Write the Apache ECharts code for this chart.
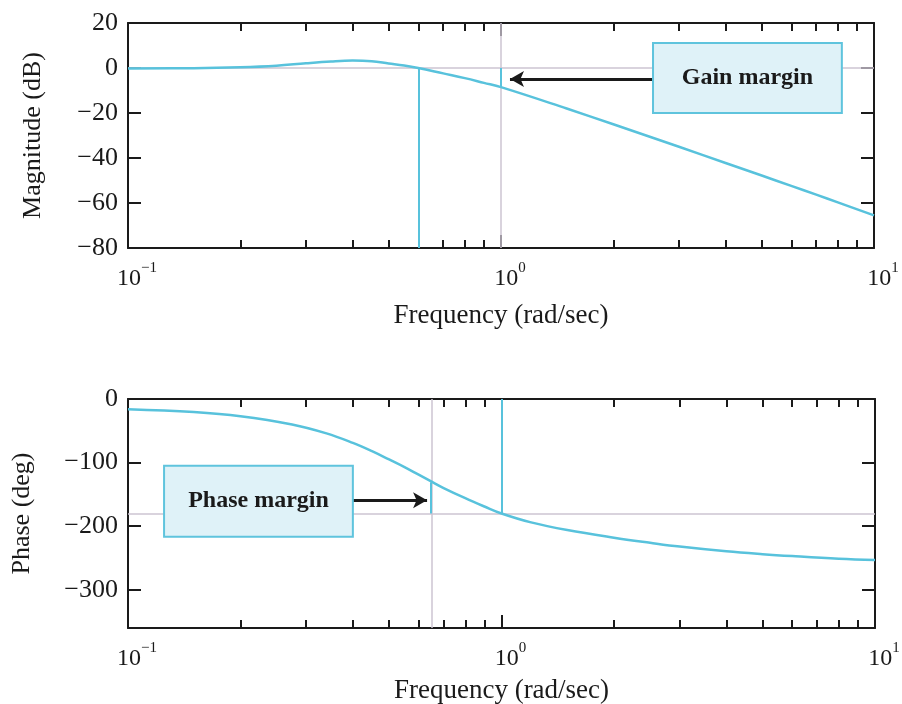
<!DOCTYPE html>
<html><head><meta charset="utf-8">
<script src="https://cdn.jsdelivr.net/npm/echarts@6.0.0/dist/echarts.min.js"></script>
<style>html,body{margin:0;padding:0;background:#fff}#c{width:902px;height:704px}</style>
</head><body><div id="c"></div>
<script>
// ---- data ----
const freqMag = [0.1,0.15,0.2,0.25,0.3,0.35,0.4,0.45,0.5,0.55,0.6,0.7,0.8,0.9,1,1.5,2,3,4,5,6,7,8,10];
const magnitudeDb = [-0.2,-0.1,0.3,1.0,2.1,2.9,3.3,3.0,2.0,1.1,0.0,-2.4,-4.5,-6.6,-8.5,-18.0,-25.0,-35.0,-42.2,-47.8,-52.4,-56.3,-59.7,-65.5];
const freqPhase = [0.1,0.15,0.2,0.275,0.34,0.4,0.45,0.5,0.55,0.6,0.65,0.7,0.8,0.9,1,1.2,1.5,2,2.5,3,4,5,6,8,10];
const phaseDeg = [-16,-20.5,-27,-40,-54,-69,-82,-95,-107,-119,-130,-140,-156,-169,-180,-194,-206,-218,-226,-232,-239.5,-244,-247,-251,-253];
const xLabelValues = [0.1, 1, 10];
const xTickValues = [0.1,0.2,0.3,0.4,0.5,0.6,0.7,0.8,0.9,1,2,3,4,5,6,7,8,9,10];
const xMajorTickValues = [1];
const magTickValues = [20,0,-20,-40,-60,-80];
const phaseTickValues = [0,-100,-200,-300];
// margins / annotation values
const gainCrossFreq = 0.6;
const phaseCrossFreq = 1;
const gainMarginDb = -8.5;
const pmFreq = 0.645;
const pmPhase = -131;
const phaseRef = -180;
const gainBox = {x0: 2.556, x1: 8.2, y0: 11.1, y1: -20, arrowY: -4.9, arrowTip: 1.057, text: 'Gain margin'};
const phaseBox = {x0: 0.1249, x1: 0.40, y0: -105, y1: -216.5, arrowY: -159, arrowTip: 0.632, text: 'Phase margin'};

// ---- styles ----
const FONT = 'Liberation Serif';
const BLUE = '#58c2dc';
const GREY = '#cdc5d2';
const INK = '#1a1a1a';
const minus = v => String(v).replace('-', '\u2212');

function xAxes(grid) {
  const common = {type: 'log', logBase: 10, min: 0.1, max: 10, gridIndex: grid,
    splitLine: {show: false}, minorTick: {show: false}};
  const line = {show: true, onZero: false, lineStyle: {color: INK, width: 2}};
  return [
    Object.assign({}, common, {position: 'bottom', axisLine: line,
      axisTick: {show: true, inside: true, length: 8, customValues: xTickValues, lineStyle: {color: INK, width: 2}},
      axisLabel: {show: true, customValues: xLabelValues, margin: 13, padding: [0,0,0,18],
        formatter: v => '{b|10}{s|' + minus(Math.round(Math.log10(v))) + '}',
        rich: {b: {fontFamily: FONT, fontSize: 24, color: INK, lineHeight: 30, verticalAlign: 'bottom'},
               s: {fontFamily: FONT, fontSize: 15, color: INK, lineHeight: 15, verticalAlign: 'top'}}},
      name: 'Frequency (rad/sec)', nameLocation: 'middle', nameGap: grid === 0 ? 54 : 49, nameMoveOverlap: false,
      nameTextStyle: {fontFamily: FONT, fontSize: 27, color: INK}}),
    Object.assign({}, common, {position: 'top', axisLine: line,
      axisTick: {show: true, inside: true, length: 8, customValues: xTickValues, lineStyle: {color: INK, width: 2}},
      axisLabel: {show: false}}),
    Object.assign({}, common, {position: 'bottom', axisLine: {show: false, onZero: false},
      axisTick: {show: true, inside: true, length: 13, customValues: xMajorTickValues, lineStyle: {color: INK, width: 2}},
      axisLabel: {show: false}}),
    Object.assign({}, common, {position: 'top', axisLine: {show: false, onZero: false},
      axisTick: {show: true, inside: true, length: 13, customValues: xMajorTickValues, lineStyle: {color: INK, width: 2}},
      axisLabel: {show: false}})
  ];
}
function yAxes(grid, min, max, ticks, name, gap) {
  const line = {show: true, onZero: false, lineStyle: {color: INK, width: 2}};
  const tick = {show: true, inside: true, length: 13, customValues: ticks, lineStyle: {color: INK, width: 2}};
  return [
    {type: 'value', gridIndex: grid, min, max, position: 'left', axisLine: line, axisTick: tick,
     splitLine: {show: false},
     axisLabel: {show: true, customValues: ticks, margin: 10, formatter: minus,
       fontFamily: FONT, fontSize: 26, color: INK},
     name, nameLocation: 'middle', nameGap: gap, nameMoveOverlap: false,
     nameTextStyle: {fontFamily: FONT, fontSize: 26, color: INK}},
    {type: 'value', gridIndex: grid, min, max, position: 'right', axisLine: line, axisTick: tick,
     splitLine: {show: false}, axisLabel: {show: false}}
  ];
}

const greyLine = {color: GREY, width: 1.5, type: 'solid'};
const blueLine = {color: BLUE, width: 2, type: 'solid'};
const arrowLine = {color: INK, width: 3, type: 'solid'};
const boxStyle = {color: '#dff2f8', borderColor: '#5fc4dd', borderWidth: 2};
const boxLabel = {show: true, position: 'inside', fontFamily: FONT, fontSize: 24, fontWeight: 'bold', color: INK};

function arrow(from, to) {
  return [{coord: from, symbol: 'none', lineStyle: arrowLine},
          {coord: to, symbol: 'arrow', symbolSize: [12, 14], lineStyle: arrowLine}];
}

const option = {
  animation: false,
  backgroundColor: '#fff',
  grid: [
    {left: 128, top: 23, width: 746, height: 225, containLabel: false, outerBoundsMode: 'none'},
    {left: 128, top: 399, width: 747, height: 229, containLabel: false, outerBoundsMode: 'none'}
  ],
  xAxis: xAxes(0).concat(xAxes(1)),
  yAxis: yAxes(0, -80, 20, magTickValues, 'Magnitude (dB)', 82)
    .concat(yAxes(1, -360, 0, phaseTickValues, 'Phase (deg)', 93)),
  series: [
    {type: 'line', name: 'Magnitude', xAxisIndex: 0, yAxisIndex: 0, z: 3,
     data: freqMag.map((f, i) => [f, magnitudeDb[i]]),
     smooth: 0.4, showSymbol: false, symbol: 'none', lineStyle: {color: BLUE, width: 2.5},
     markLine: {silent: true, z: 2, symbol: ['none', 'none'], label: {show: false},
       data: [
         {yAxis: 0, lineStyle: greyLine},
         {xAxis: phaseCrossFreq, lineStyle: greyLine}
       ]}},
    {type: 'line', name: 'gm', xAxisIndex: 0, yAxisIndex: 0, data: [], z: 4,
     markLine: {silent: true, z: 4, symbol: ['none', 'none'], label: {show: false},
       data: [
         [{coord: [gainCrossFreq, 0], lineStyle: blueLine}, {coord: [gainCrossFreq, -80]}],
         [{coord: [phaseCrossFreq, 0], lineStyle: blueLine}, {coord: [phaseCrossFreq, gainMarginDb]}],
         arrow([gainBox.x0, gainBox.arrowY], [gainBox.arrowTip, gainBox.arrowY])
       ]},
     markArea: {silent: true, z: 6, itemStyle: boxStyle, label: boxLabel,
       data: [[{name: gainBox.text, coord: [gainBox.x0, gainBox.y0]}, {coord: [gainBox.x1, gainBox.y1]}]]}},
    {type: 'line', name: 'Phase', xAxisIndex: 4, yAxisIndex: 2, z: 3,
     data: freqPhase.map((f, i) => [f, phaseDeg[i]]),
     smooth: 0.4, showSymbol: false, symbol: 'none', lineStyle: {color: BLUE, width: 2.5},
     markLine: {silent: true, z: 2, symbol: ['none', 'none'], label: {show: false},
       data: [
         {yAxis: phaseRef, lineStyle: greyLine},
         {xAxis: pmFreq, lineStyle: greyLine}
       ]}},
    {type: 'line', name: 'pm', xAxisIndex: 4, yAxisIndex: 2, data: [], z: 4,
     markLine: {silent: true, z: 4, symbol: ['none', 'none'], label: {show: false},
       data: [
         [{coord: [pmFreq, pmPhase], lineStyle: blueLine}, {coord: [pmFreq, phaseRef]}],
         [{coord: [phaseCrossFreq, 0], lineStyle: blueLine}, {coord: [phaseCrossFreq, phaseRef]}],
         arrow([phaseBox.x1, phaseBox.arrowY], [phaseBox.arrowTip, phaseBox.arrowY])
       ]},
     markArea: {silent: true, z: 6, itemStyle: boxStyle, label: boxLabel,
       data: [[{name: phaseBox.text, coord: [phaseBox.x0, phaseBox.y0]}, {coord: [phaseBox.x1, phaseBox.y1]}]]}}
  ]
};
const chart = echarts.init(document.getElementById('c'), null, {renderer: 'canvas'});
chart.setOption(option);
</script>
</body></html>
